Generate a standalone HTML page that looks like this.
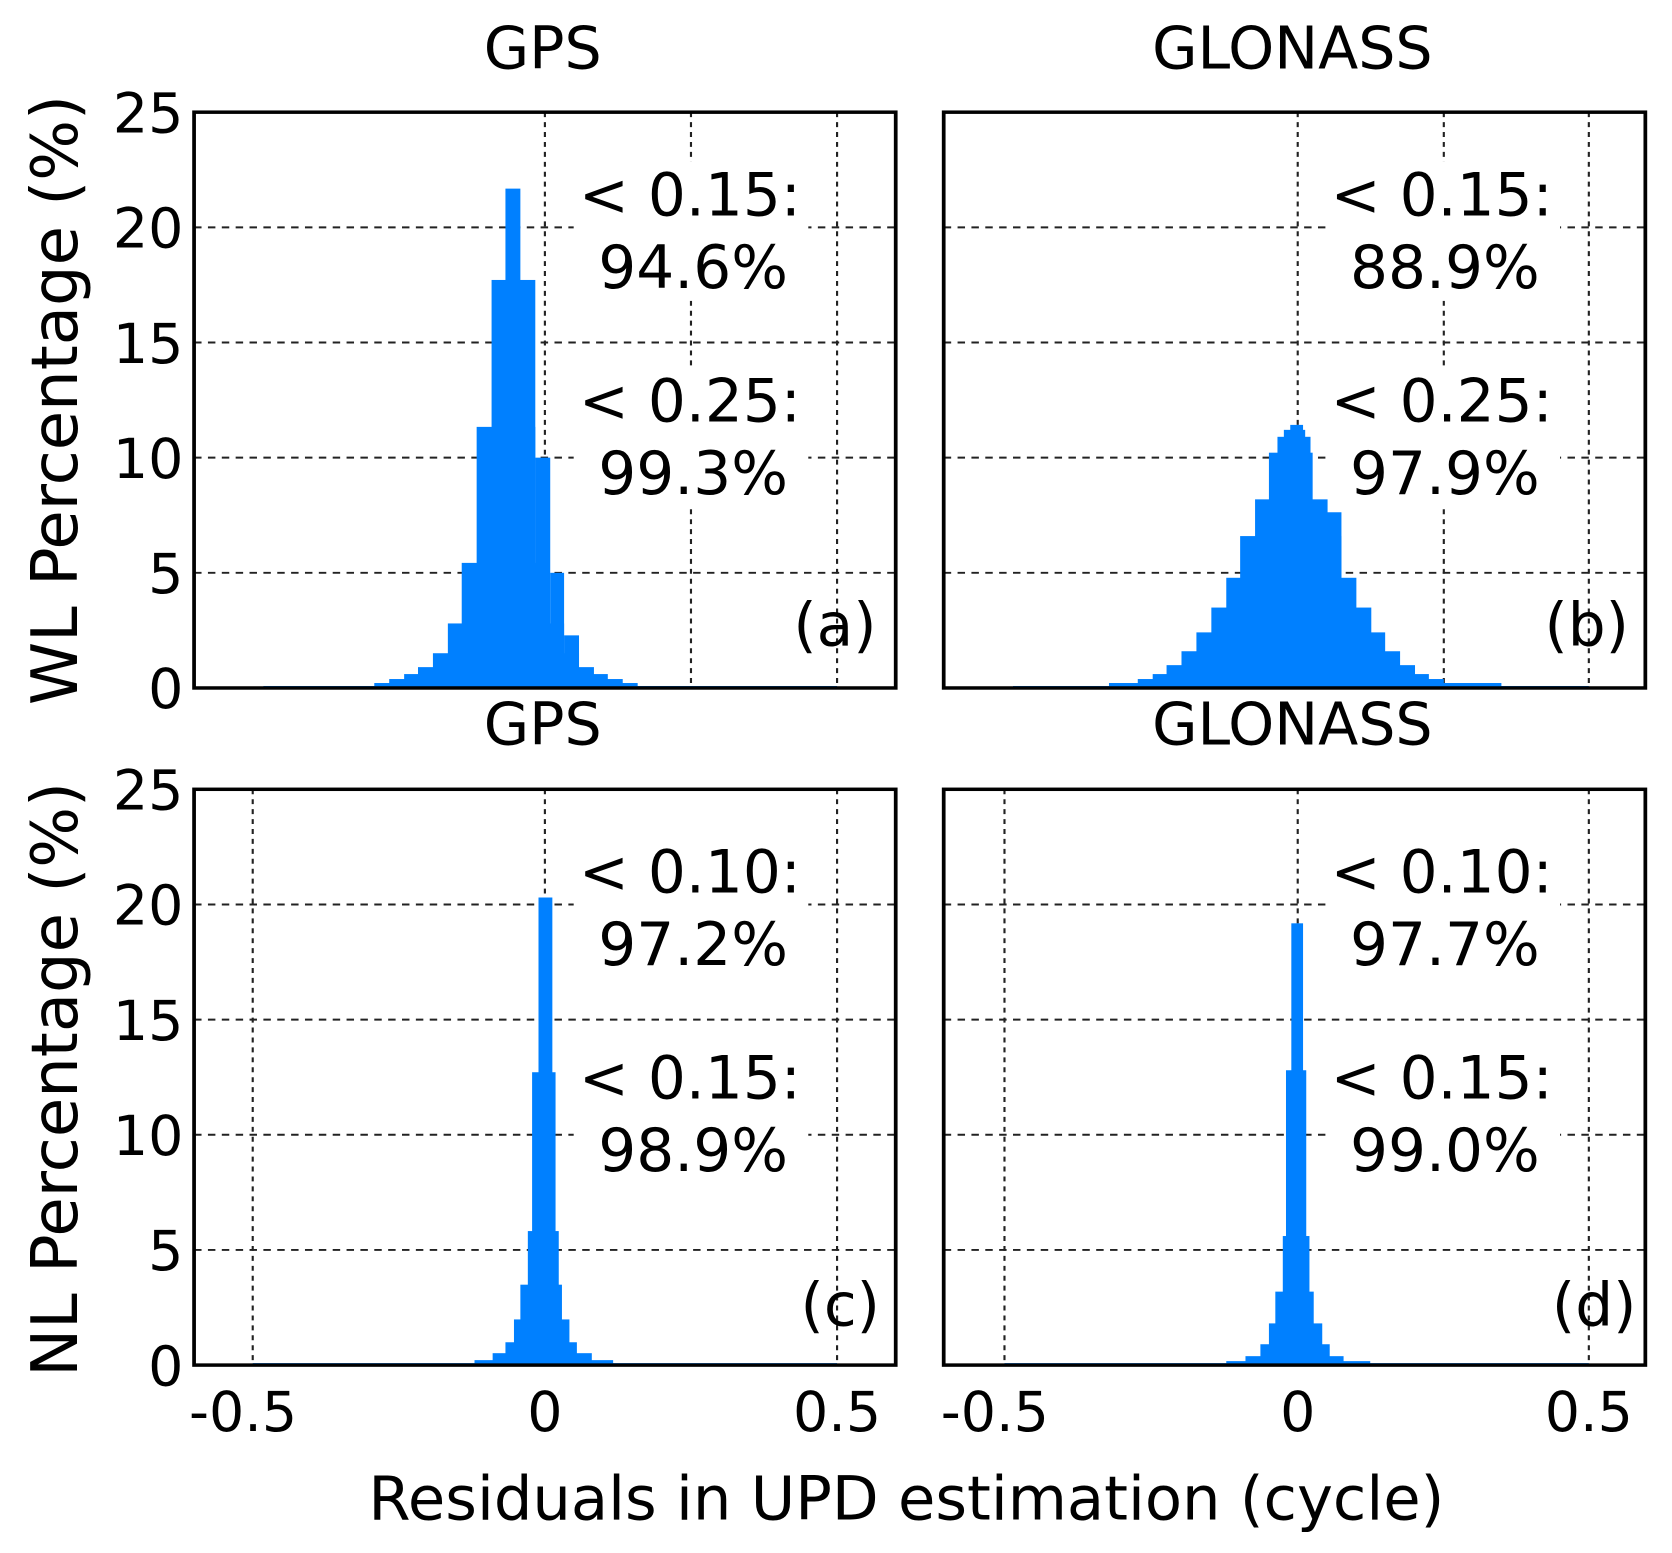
<!DOCTYPE html>
<html><head><meta charset="utf-8"><style>html,body{margin:0;padding:0;background:#fff}svg{display:block}</style></head>
<body>
<svg width="1672" height="1553" viewBox="0 0 1568 1456" xmlns="http://www.w3.org/2000/svg" font-family="DejaVu Sans, Liberation Sans, sans-serif" fill="#000">
<rect width="1568" height="1456" fill="#fff"/>
<g transform="translate(0,105) scale(1,0.931) translate(0,-115)">
<g stroke="#222" stroke-width="2" stroke-dasharray="7,6" fill="none">
  <path d="M182 579H840M182 463H840M182 347H840M182 231H840"/>
  <path d="M511 115V695M648 115V695M785 115V695" stroke-dasharray="5,5"/>
  <path d="M885 579H1543M885 463H1543M885 347H1543M885 231H1543"/>
  <path d="M1217 115V695M1354 115V695M1490 115V695" stroke-dasharray="5,5"/>
</g>
<g fill="#fff">
  <rect x="538" y="165" width="220" height="140"/>
  <rect x="538" y="372" width="220" height="140"/>
  <rect x="1243" y="165" width="220" height="140"/>
  <rect x="1243" y="372" width="220" height="140"/>
</g>
<g fill="#0080ff">
  <rect x="247" y="693" width="538" height="2"/>
  <rect x="351" y="690" width="247" height="5"/>
  <rect x="365" y="686" width="219" height="9"/>
  <rect x="379" y="681" width="191" height="14"/>
  <rect x="392" y="674" width="165" height="21"/>
  <rect x="406" y="660" width="137" height="35"/>
  <rect x="420" y="630" width="109" height="65"/>
  <rect x="433" y="569" width="82" height="126"/>
  <rect x="447" y="432" width="55" height="263"/>
  <rect x="502" y="463" width="14" height="232"/>
  <rect x="461" y="284" width="41" height="411"/>
  <rect x="474" y="192" width="14" height="503"/>
  <rect x="516" y="579" width="13" height="116"/>
  <rect x="529" y="642" width="14" height="53"/>
  <rect x="950" y="693" width="540" height="2"/>
  <rect x="1040" y="690" width="368" height="5"/>
  <rect x="1067" y="686" width="287" height="9"/>
  <rect x="1081" y="681" width="259" height="14"/>
  <rect x="1094" y="672" width="233" height="23"/>
  <rect x="1108" y="658" width="205" height="37"/>
  <rect x="1122" y="639" width="177" height="56"/>
  <rect x="1136" y="614" width="150" height="81"/>
  <rect x="1150" y="584" width="122" height="111"/>
  <rect x="1163" y="542" width="95" height="153"/>
  <rect x="1177" y="505" width="68" height="190"/>
  <rect x="1231" y="518" width="27" height="177"/>
  <rect x="1190" y="458" width="41" height="237"/>
  <rect x="1198" y="442" width="31" height="253"/>
  <rect x="1204" y="435" width="20" height="260"/>
  <rect x="1210" y="430" width="12" height="265"/>
</g>
<g fill="none" stroke="#000" stroke-width="3.5">
  <rect x="182" y="115" width="658" height="580"/>
  <rect x="885" y="115" width="658" height="580"/>
</g>
</g>
<g transform="translate(0,740) scale(1,0.931) translate(0,-800)">
<g stroke="#222" stroke-width="2" stroke-dasharray="7,6" fill="none">
  <path d="M182 1264H840M182 1148H840M182 1032H840M182 916H840"/>
  <path d="M237 800V1380M511 800V1380M785 800V1380" stroke-dasharray="5,5"/>
  <path d="M885 1264H1543M885 1148H1543M885 1032H1543M885 916H1543"/>
  <path d="M942 800V1380M1217 800V1380M1490 800V1380" stroke-dasharray="5,5"/>
</g>
<g fill="#fff">
  <rect x="538" y="850" width="220" height="140"/>
  <rect x="538" y="1058" width="220" height="140"/>
  <rect x="1243" y="850" width="220" height="140"/>
  <rect x="1243" y="1058" width="220" height="140"/>
</g>
<g fill="#0080ff">
  <rect x="237" y="1378" width="548" height="2"/>
  <rect x="445" y="1375" width="130" height="5"/>
  <rect x="462" y="1368" width="93" height="12"/>
  <rect x="474" y="1357" width="67" height="23"/>
  <rect x="482" y="1334" width="52" height="46"/>
  <rect x="488" y="1299" width="39" height="81"/>
  <rect x="495" y="1245" width="29" height="135"/>
  <rect x="499" y="1085" width="22" height="295"/>
  <rect x="505" y="909" width="13" height="471"/>
  <rect x="942" y="1378" width="548" height="2"/>
  <rect x="1150" y="1376" width="135" height="4"/>
  <rect x="1168" y="1371" width="92" height="9"/>
  <rect x="1182" y="1359" width="65" height="21"/>
  <rect x="1190" y="1338" width="50" height="42"/>
  <rect x="1196" y="1306" width="36" height="74"/>
  <rect x="1203" y="1250" width="25" height="130"/>
  <rect x="1206" y="1083" width="19" height="297"/>
  <rect x="1211" y="935" width="11" height="445"/>
</g>
<g fill="none" stroke="#000" stroke-width="3.5">
  <rect x="182" y="800" width="658" height="580"/>
  <rect x="885" y="800" width="658" height="580"/>
</g>
</g>
<g font-size="55" text-anchor="middle">
  <text x="509" y="64">GPS</text>
  <text x="1212" y="64">GLONASS</text>
  <text x="509" y="698">GPS</text>
  <text x="1212" y="698">GLONASS</text>
</g>
<g font-size="52" text-anchor="end">
  <text x="172" y="124">25</text><text x="172" y="232">20</text><text x="172" y="340">15</text><text x="172" y="448">10</text><text x="172" y="556">5</text><text x="172" y="664">0</text>
  <text x="172" y="759">25</text><text x="172" y="867">20</text><text x="172" y="975">15</text><text x="172" y="1083">10</text><text x="172" y="1191">5</text><text x="172" y="1299">0</text>
</g>
<g font-size="52" text-anchor="middle">
  <text x="228" y="1342">-0.5</text><text x="511" y="1342">0</text><text x="785" y="1342">0.5</text>
  <text x="933" y="1342">-0.5</text><text x="1217" y="1342">0</text><text x="1490" y="1342">0.5</text>
</g>
<g text-anchor="middle">
  <text font-size="60" transform="translate(72,375) rotate(-90)">WL Percentage (%)</text>
  <text font-size="60" transform="translate(72,1012) rotate(-90)">NL Percentage (%)</text>
  <text font-size="57" x="850" y="1425">Residuals in UPD estimation (cycle)</text>
</g>
<g font-size="56" text-anchor="middle">
  <text x="647" y="202">&lt; 0.15:</text><text x="650" y="270">94.6%</text>
  <text x="647" y="395">&lt; 0.25:</text><text x="650" y="463">99.3%</text>
  <text x="1352" y="202">&lt; 0.15:</text><text x="1355" y="270">88.9%</text>
  <text x="1352" y="395">&lt; 0.25:</text><text x="1355" y="463">97.9%</text>
  <text x="647" y="837">&lt; 0.10:</text><text x="650" y="905">97.2%</text>
  <text x="647" y="1030">&lt; 0.15:</text><text x="650" y="1098">98.9%</text>
  <text x="1352" y="837">&lt; 0.10:</text><text x="1355" y="905">97.7%</text>
  <text x="1352" y="1030">&lt; 0.15:</text><text x="1355" y="1098">99.0%</text>
  <text x="783" y="605">(a)</text>
  <text x="1488" y="605">(b)</text>
  <text x="788" y="1243">(c)</text>
  <text x="1495" y="1243">(d)</text>
</g>
</svg>
</body></html>
